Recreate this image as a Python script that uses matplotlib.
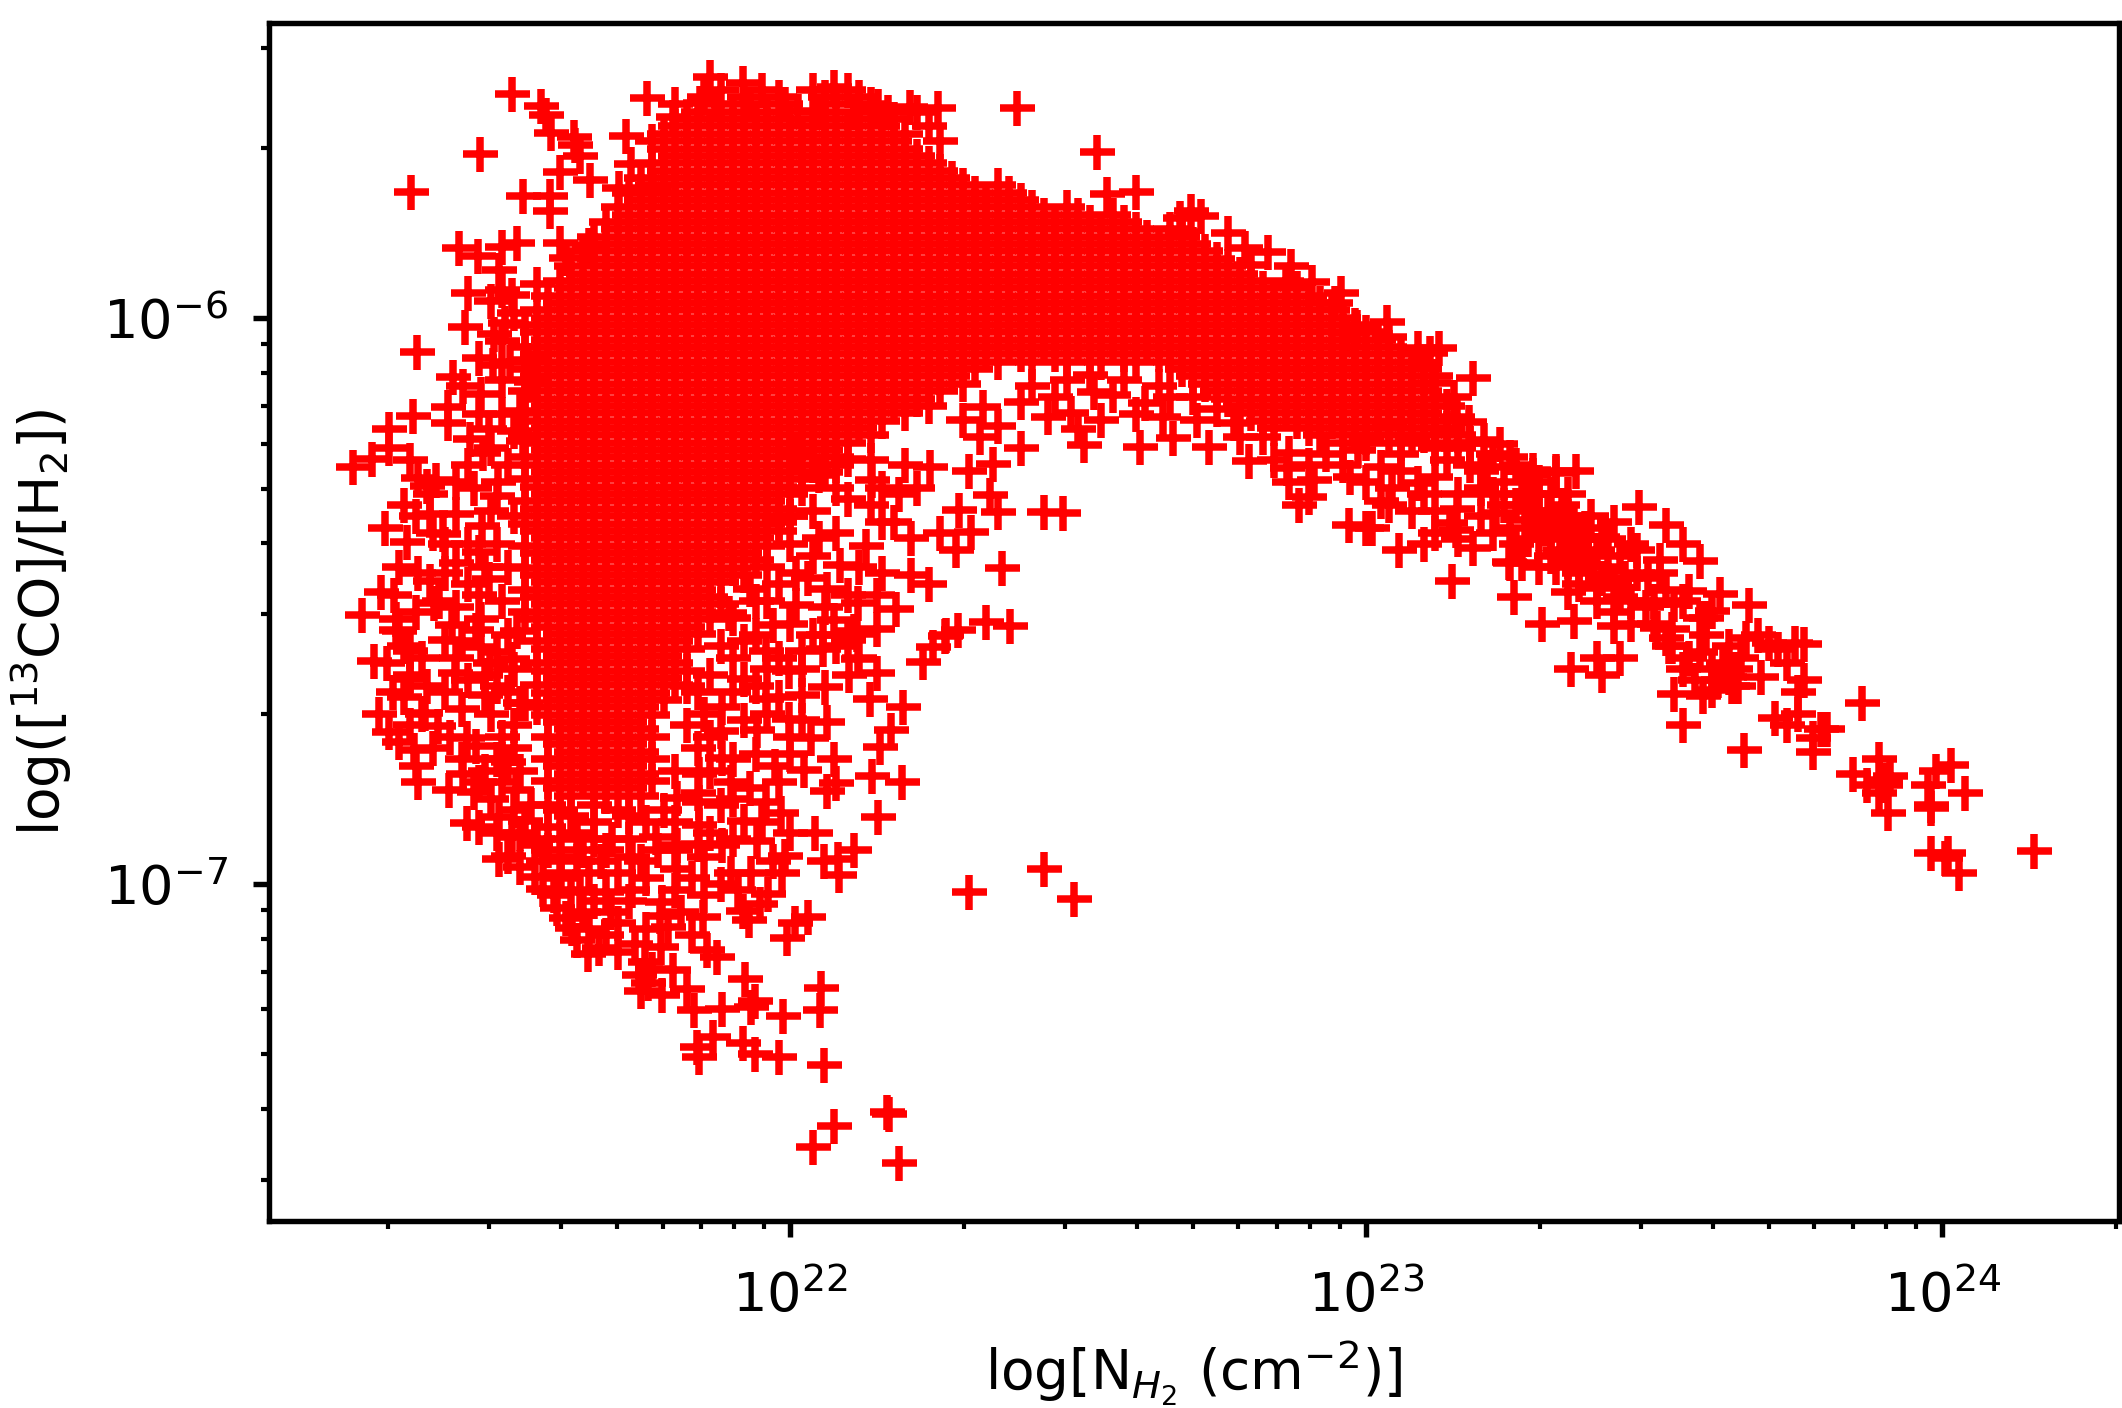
import numpy as np
import matplotlib
matplotlib.use('Agg')
import matplotlib.pyplot as plt

# everything below is log10(N_H2), log10(ratio)

# isolated points down the right hand tail
tail = [(24.16,-6.942),(23.98,-6.945),(24.01,-6.946),(24.005,-6.955),(24.03,-6.98),(24.04,-6.84),(24.015,-6.79),
        (23.99,-6.80),(23.975,-6.825),(23.98,-6.86),(23.98,-6.865),(23.906,-6.875),(23.89,-6.78),(23.91,-6.81),
        (23.845,-6.805),(23.87,-6.825),(23.89,-6.84),(23.90,-6.816),(23.90,-6.826),(23.86,-6.68),(23.775,-6.767),
        (23.775,-6.742),(23.80,-6.726),(23.79,-6.726),(23.75,-6.70),(23.73,-6.72),(23.71,-6.707),(23.75,-6.66),
        (23.76,-6.64),(23.73,-6.61),(23.76,-6.576),(23.745,-6.575),(23.715,-6.585),(23.70,-6.575),(23.68,-6.56),
        (23.66,-6.566),(23.685,-6.634),(23.655,-6.763),(23.55,-6.72),(23.535,-6.664),(23.585,-6.668),(23.60,-6.657),
        (23.635,-6.65),(23.645,-6.65),(23.63,-6.634),(23.64,-6.62),(23.62,-6.61),(23.55,-6.62),(23.56,-6.60),
        (23.59,-6.56),(23.63,-6.58),(23.52,-6.565),(23.525,-6.58),(23.505,-6.548),(23.60,-6.517),(23.59,-6.53),
        (23.665,-6.507),(23.615,-6.488),(23.56,-6.482),(23.535,-6.505),(23.43,-6.544),(23.36,-6.535),(23.305,-6.54),
        (23.257,-6.493),(23.40,-6.60),(23.44,-6.60),(23.355,-6.62),(23.41,-6.63),(23.474,-6.334),(23.52,-6.366),
        (23.55,-6.40),(23.58,-6.43),(23.51,-6.427),(23.47,-6.41),(23.51,-6.45),(23.485,-6.51),(23.44,-6.493),
        (23.38,-6.37),(23.41,-6.387),(23.37,-6.39),(23.337,-6.41),(23.30,-6.44),(23.37,-6.45),(23.40,-6.477),
        (23.35,-6.484),(23.27,-6.433),(23.25,-6.433),(23.365,-6.27),(23.33,-6.27),(23.29,-6.277),(23.30,-6.31),
        (23.35,-6.31),(23.316,-6.34),(23.275,-6.357),(23.45,-6.46),(23.46,-6.54),(23.50,-6.50),(23.53,-6.55),
        (23.58,-6.59),(23.60,-6.62),(23.61,-6.64),(23.57,-6.64),(23.65,-6.60),(23.38,-6.42),(23.42,-6.44),
        (23.34,-6.36),(23.36,-6.40),(23.32,-6.39),(23.40,-6.50),(23.43,-6.47),(23.46,-6.50),(23.39,-6.35)]

# edge of the upper band, between the core and the tail
band_edge = [(22.394,-5.629),(22.533,-5.707),(22.55,-5.78),(22.60,-5.776),(22.696,-5.81),(22.713,-5.82),(22.677,-5.823),
             (22.68,-5.848),(22.76,-5.85),(22.83,-5.883),(22.79,-5.876),(22.87,-5.908),(22.80,-5.906),(22.906,-5.936),
             (22.957,-5.956),(22.863,-5.945),(22.946,-5.973),(22.984,-6.016),(23.036,-6.007),(23.04,-6.033),(22.967,-6.027),
             (23.127,-6.053),(23.09,-6.053),(23.11,-6.062),(23.186,-6.106),(23.116,-6.115),(23.153,-6.14),(23.158,-6.175),
             (23.178,-6.184),(23.233,-6.223),(23.205,-6.216),(23.29,-6.268),(23.33,-6.274),(23.25,-6.245),(23.21,-6.263),
             (23.247,-6.431),(23.148,-6.465),(23.056,-6.41),(23.10,-6.40),(23.186,-6.406),(23.156,-6.375),(22.97,-6.366),
             (23.01,-6.37),(23.0,-6.37),(22.884,-6.33),(22.90,-6.316),(23.026,-6.323),(23.10,-6.31),(23.12,-6.34),
             (23.158,-6.337),(23.146,-6.362),(23.226,-6.344),(23.25,-6.37),(22.863,-6.265),(22.866,-6.29),(22.91,-6.286),
             (22.972,-6.28),(23.045,-6.30),(22.797,-6.253),(22.727,-6.228),(22.665,-6.212),(22.608,-6.228),(22.51,-6.224),
             (22.50,-6.196),(22.40,-6.23),(22.352,-6.257),(22.347,-6.313),(22.36,-6.342),(22.44,-6.343),(22.474,-6.345),
             (22.368,-6.441),(22.314,-6.378),(22.488,-6.168),(22.448,-6.175),(22.40,-6.148),(22.335,-6.157),(22.56,-6.136),
             (22.528,-6.13),(22.615,-6.15),(22.647,-6.175),(22.706,-6.18),(22.77,-6.186),(22.82,-6.21),(22.866,-6.239),
             (22.93,-6.24),(22.986,-6.233),(23.026,-6.263),(23.09,-6.292),(23.14,-6.25),(23.20,-6.30),(23.06,-6.24),
             (23.18,-6.26),(23.24,-6.29),(23.27,-6.31),(22.33,-6.21),(22.31,-6.27),(22.30,-6.18),(22.36,-6.19),
             (22.42,-6.12),(22.46,-6.14),(22.54,-6.18)]

# thicker part of the band and the knot around 2-3e23
band_fill = [(22.58,-6.11),(22.64,-6.12),(22.70,-6.14),(22.52,-6.10),(22.48,-6.11),(22.60,-6.17),(22.66,-6.14),(22.74,-6.16),
             (22.78,-6.21),(22.84,-6.25),(22.90,-6.26),(22.96,-6.26),(23.00,-6.29),(23.06,-6.27),(23.12,-6.28),(23.16,-6.31),
             (23.22,-6.31),(23.26,-6.33),(23.30,-6.35),(23.34,-6.33),(23.28,-6.39),(23.32,-6.42),(23.35,-6.38),(23.38,-6.39),
             (23.36,-6.36),(23.40,-6.41),(23.42,-6.39),(23.44,-6.42),(23.39,-6.44),(23.41,-6.46),(23.37,-6.47),(23.35,-6.43),
             (23.33,-6.44),(23.30,-6.38),(23.26,-6.40),(23.22,-6.38),(23.20,-6.35),(23.16,-6.39),(23.12,-6.38),(23.08,-6.34),
             (23.04,-6.33),(23.22,-6.24),(23.26,-6.26),(23.30,-6.29),(23.18,-6.22),(23.14,-6.20),(23.10,-6.17),(23.16,-6.23),
             (23.20,-6.27),(23.12,-6.23),(23.08,-6.21),(23.04,-6.19),(23.00,-6.21),(22.96,-6.22),(23.24,-6.33),(23.28,-6.31),
             (23.32,-6.31),(23.31,-6.37),(23.29,-6.34),(23.35,-6.35),(23.43,-6.36),(23.46,-6.40),(23.47,-6.45),(23.43,-6.52),
             (23.49,-6.46),(23.52,-6.48),(23.55,-6.50),(23.58,-6.53),(23.53,-6.58),(23.50,-6.54)]

# left wing and top edge of the cloud
left_wing = [(21.516,-5.604),(21.568,-5.624),(21.576,-5.64),(21.585,-5.673),(21.625,-5.68),(21.627,-5.694),(21.635,-5.714),
             (21.462,-5.71),(21.342,-5.777),(21.60,-5.742),(21.653,-5.756),(21.536,-5.784),(21.583,-5.784),(21.583,-5.81),
             (21.703,-5.77),(21.762,-5.774),(21.752,-5.61),(21.86,-5.574),(21.917,-5.585),(22.076,-5.592),(22.257,-5.629),
             (22.208,-5.627),(22.153,-5.624),(22.014,-5.634),(21.844,-5.62),(21.797,-5.645),(21.715,-5.678),(21.724,-5.728),
             (21.425,-5.876),(21.457,-5.89),(21.50,-5.874),(21.526,-5.867),(21.495,-5.915),(21.60,-5.867),(21.65,-5.871),
             (21.611,-5.894),(21.44,-5.956),(21.517,-5.959),(21.56,-5.94),(21.436,-6.016),(21.486,-6.028),(21.505,-6.009),
             (21.352,-6.06),(21.483,-6.083),(21.514,-6.078),(21.545,-6.074),(21.415,-6.104),(21.432,-6.12),(21.463,-6.134),
             (21.50,-6.11),(21.55,-6.113),(21.405,-6.157),(21.345,-6.173),(21.53,-6.164),(21.405,-6.186),(21.304,-6.196),
             (21.477,-6.196),(21.536,-6.217),(21.444,-6.214),(21.304,-6.23),(21.274,-6.249),(21.24,-6.263),(21.34,-6.25),
             (21.467,-6.239),(21.385,-6.286),(21.354,-6.283),(21.37,-6.297),(21.493,-6.29),(21.491,-6.315),(21.375,-6.31),
             (21.33,-6.33),(21.297,-6.371),(21.335,-6.396),(21.375,-6.346),(21.42,-6.346),(21.397,-6.382),(21.465,-6.367),
             (21.46,-6.413),(21.42,-6.433),(21.354,-6.45),(21.375,-6.465),(21.29,-6.484),(21.312,-6.49),(21.382,-6.504),
             (21.476,-6.461),(21.257,-6.525),(21.463,-6.532),(21.316,-6.532),(21.32,-6.553),(21.413,-6.542),(21.526,-6.553),
             (21.339,-6.588),(21.316,-6.551),(21.455,-6.551),(21.401,-6.569),(21.463,-6.581),(21.517,-6.602),(21.479,-6.61),
             (21.278,-6.606),(21.339,-6.638),(21.417,-6.627),(21.47,-6.666),(21.366,-6.698),(21.54,-6.68),(21.285,-6.70),
             (21.304,-6.731),(21.389,-6.721),(21.455,-6.756),(21.439,-6.742),(21.509,-6.784),(21.524,-6.834),(21.408,-6.834),
             (21.451,-6.837),(21.432,-6.806),(21.354,-6.82),(21.35,-6.791),(21.347,-6.763),(21.438,-6.892),(21.495,-6.882),
             (21.495,-6.956),(21.517,-6.917),(21.54,-6.889),(21.556,-6.931),(21.48,-6.70),(21.51,-6.66),(21.50,-6.74),
             (21.52,-6.72),(21.49,-6.78),(21.47,-6.80),(21.50,-6.82),(21.51,-6.56),(21.50,-6.50),(21.51,-6.44),
             (21.49,-6.40),(21.52,-6.35),(21.51,-6.26),(21.52,-6.20),(21.52,-6.62),(21.46,-6.49),(21.44,-6.40),(21.40,-6.45)]

# denser patches of the left wing
wing_fill = [(21.33,-6.58),(21.36,-6.60),(21.34,-6.63),(21.37,-6.65),(21.33,-6.67),(21.36,-6.70),(21.34,-6.72),(21.31,-6.66),
             (21.30,-6.61),(21.32,-6.75),(21.38,-6.76),(21.41,-6.74),(21.43,-6.69),(21.40,-6.66),(21.44,-6.64),(21.42,-6.60),
             (21.47,-6.63),(21.49,-6.59),(21.49,-6.65),(21.53,-6.68),(21.43,-6.78),(21.46,-6.82),(21.48,-6.85),(21.50,-6.78),
             (21.52,-6.76),(21.53,-6.80),(21.52,-6.87),(21.49,-6.91),(21.51,-6.95),(21.53,-6.97),(21.55,-6.86),(21.53,-6.91),
             (21.46,-6.90),(21.39,-6.50),(21.42,-6.51),(21.44,-6.47),(21.40,-6.40),(21.47,-6.44),(21.48,-6.34),(21.45,-6.30),
             (21.44,-6.26),(21.48,-6.23),(21.50,-6.17),(21.46,-6.07),(21.50,-6.04),(21.52,-5.99),(21.50,-5.95),(21.48,-5.97),
             (21.46,-6.17),(21.42,-6.29),(21.38,-6.38),(21.35,-6.35),(21.32,-6.44),(21.35,-6.52),(21.43,-6.57)]

# scatter under the core, down to the lowest points
lower_right = [(22.243,-6.263),(22.118,-6.504),(22.184,-6.514),(22.21,-6.454),(22.21,-6.389),(22.293,-6.339),(22.288,-6.41),
               (22.27,-6.56),(22.11,-6.553),(22.132,-6.403),(22.142,-6.286),(22.188,-6.311),(22.087,-6.436),(22.05,-6.389),
               (22.01,-6.45),(22.05,-6.277),(22.10,-6.249),(22.01,-6.242),(21.93,-6.479),(22.01,-6.507),(22.064,-6.479),
               (21.894,-6.521),(21.97,-6.542),(22.056,-6.56),(22.292,-6.551),(22.339,-6.537),(22.382,-6.544),(22.269,-6.562),
               (22.247,-6.581),(22.231,-6.608),(22.115,-6.558),(22.10,-6.569),(22.057,-6.585),(22.118,-6.602),(22.151,-6.627),
               (22.102,-6.631),(22.139,-6.673),(22.196,-6.687),(22.174,-6.728),(22.156,-6.758),(22.076,-6.779),(22.064,-6.714),
               (22.142,-6.809),(22.194,-6.82),(22.08,-6.822),(22.063,-6.836),(22.153,-6.882),(21.983,-6.875),(22.043,-6.91),
               (22.11,-6.94),(22.083,-6.956),(22.085,-6.984),(22.059,-6.96),(21.99,-6.95),(21.986,-6.98),(22.31,-7.015),
               (22.44,-6.973),(22.493,-7.027),(22.03,-7.058),(22.009,-7.07),(21.995,-7.095),(21.929,-7.064),(21.917,-7.048),
               (21.962,-7.018),(21.948,-7.035),(21.897,-6.98),(21.932,-6.98),(21.849,-7.058),(21.856,-7.117),(21.873,-7.129),
               (21.778,-7.032),(21.773,-7.056),(21.788,-7.076),(21.776,-7.111),(21.731,-7.106),(21.747,-7.138),(21.797,-7.152),
               (21.738,-7.161),(21.753,-7.175),(21.82,-7.186),(21.778,-7.196),(21.832,-7.223),(21.882,-7.221),(21.922,-7.168),
               (21.939,-7.207),(21.932,-7.217),(21.988,-7.233),(22.054,-7.184),(22.052,-7.223),(22.059,-7.32),(21.838,-7.288),
               (21.866,-7.27),(21.842,-7.306),(21.917,-7.281),(21.939,-7.30),(21.981,-7.306),(22.168,-7.403),(22.172,-7.407),
               (22.076,-7.428),(22.04,-7.465),(22.189,-7.493),(21.649,-7.124),(21.668,-7.113),(21.621,-7.078),(21.595,-7.042),
               (21.688,-7.05),(21.68,-7.014),(21.726,-7.011),(21.634,-7.014),(21.571,-7.009),(21.556,-6.988),(21.602,-6.98),
               (21.958,-6.673),(22.02,-6.666),(22.06,-6.652),(21.998,-6.708),(22.036,-6.742),(21.92,-6.638),(21.998,-6.624),
               (21.882,-6.687),(21.943,-6.728),(21.974,-6.791),(22.024,-6.799),(21.897,-6.82),(21.842,-6.855),(21.958,-6.855),
               (21.92,-6.889),(21.842,-6.896),(21.804,-6.931),(21.882,-6.931),(21.943,-6.924),(21.804,-6.973),(21.851,-6.952),
               (22.02,-6.588),(21.958,-6.588),(22.075,-6.534),(21.882,-6.777),(21.842,-6.806),(21.804,-6.848),(21.766,-6.917),
               (21.726,-6.952),(21.672,-6.96),(21.602,-6.952),(21.60,-6.87),(21.66,-6.89),(21.72,-6.88),(21.78,-6.87),
               (21.63,-6.91),(21.69,-6.92),(21.58,-6.90),(21.64,-6.94),(21.86,-6.74),(21.84,-6.66),(21.90,-6.60),
               (22.14,-6.33),(22.08,-6.30),(22.16,-6.36),(22.22,-6.30),(22.26,-6.38),(22.24,-6.47),(22.16,-6.45),
               (22.10,-6.49),(22.04,-6.34),(22.00,-6.40),(21.96,-6.50),(21.98,-6.60),(21.94,-6.56),(22.15,-6.55)]

# the busy area just below and right of the core
lower_fill = [(21.58,-6.86),(21.62,-6.88),(21.66,-6.86),(21.70,-6.87),(21.75,-6.89),(21.80,-6.89),(21.56,-6.92),(21.60,-6.92),
              (21.66,-6.92),(21.72,-6.92),(21.77,-6.94),(21.58,-6.94),(21.63,-6.96),(21.68,-6.94),(21.74,-6.96),(21.57,-6.96),
              (21.60,-6.99),(21.65,-6.98),(21.70,-6.98),(21.75,-6.99),(21.62,-7.01),(21.66,-7.03),(21.59,-7.02),(21.72,-7.03),
              (21.64,-7.05),(21.61,-7.06),(21.70,-7.07),(21.65,-7.08),(21.63,-7.10),(21.68,-7.09),(21.75,-7.08),(21.80,-7.01),
              (21.83,-6.99),(21.85,-7.02),(21.81,-7.05),(21.88,-7.00),(21.91,-7.01),(21.83,-7.09),(21.70,-7.12),(21.74,-7.19),
              (21.76,-7.15),(21.80,-6.94),(21.84,-6.93),(21.86,-6.91),(21.90,-6.92),(21.95,-6.89),(22.00,-6.91),(21.97,-6.96),
              (21.88,-6.86),(21.80,-6.80),(21.84,-6.84),(21.90,-6.85),(21.93,-6.83),(21.98,-6.82),(21.86,-6.80),(21.90,-6.78),
              (21.94,-6.77),(22.00,-6.77),(21.84,-6.76),(21.88,-6.73),(21.92,-6.71),(21.96,-6.70),(22.00,-6.74),(21.82,-6.72),
              (21.85,-6.70),(21.90,-6.66),(21.94,-6.65),(21.98,-6.67),(22.02,-6.71),(21.82,-6.65),(21.86,-6.63),(21.88,-6.58),
              (21.92,-6.57),(21.96,-6.62),(22.02,-6.62),(22.04,-6.56),(21.90,-6.53),(21.94,-6.50),(21.98,-6.47),(22.03,-6.46),
              (22.06,-6.51),(22.00,-6.54),(22.08,-6.58),(22.12,-6.60),(21.96,-6.44),(22.00,-6.35),(22.04,-6.42),(22.08,-6.38),
              (22.12,-6.44),(22.15,-6.49),(22.10,-6.32),(22.18,-6.36),(22.16,-6.30),(22.08,-6.26),(22.14,-6.25),(22.20,-6.26),
              (22.02,-6.30),(21.98,-6.36)]

# the solid part of the cloud is too dense to pick single points out of,
# so it is read as rows of crosses: one ratio level, then its N_H2 values
core_levels = [-5.597,-5.609,-5.622,-5.635,-5.648,-5.661,-5.674,-5.687,
               -5.700,-5.713,-5.726,-5.739,-5.752,-5.765,-5.778,-5.791,-5.804,-5.817,-5.830,-5.843,-5.856,-5.869,
               -5.882,-5.895,-5.908,-5.921,-5.934,-5.947,-5.960,-5.973,-5.986,-5.999,-6.012,-6.025,-6.038,-6.051,
               -6.064,-6.077,-6.090,-6.103,-6.116,-6.129,-6.142,-6.155,-6.168,-6.181,-6.194,-6.207,-6.220,-6.233,
               -6.246,-6.259,-6.272,-6.285,-6.298,-6.311,-6.324,-6.337,-6.350,-6.363,-6.376,-6.389,-6.402,-6.415,
               -6.428,-6.441,-6.454,-6.467,-6.480,-6.493,-6.506,-6.519,-6.532,-6.545,-6.558,-6.571,-6.584,-6.597,
               -6.610,-6.623,-6.636,-6.649,-6.662,-6.675,-6.688,-6.701,-6.714,-6.727,-6.740,-6.753,-6.766,-6.779,
               -6.792,-6.805,-6.818,-6.831,-6.844]
core_rows = [
    [21.88,21.95,22.04,22.10],
    [21.85,21.92,21.98,22.06,22.12],
    [21.80,21.87,21.93,21.99,22.08,22.14],
    [21.84,21.90,21.96,22.05,22.11,22.17,22.22],
    [21.82,21.88,21.94,22.00,22.06,22.12,22.18],
    [21.80,21.86,21.92,21.98,22.04,22.10,22.16,22.24],
    [21.78,21.84,21.90,21.96,22.02,22.08,22.14,22.20],
    [21.76,21.82,21.88,21.94,22.00,22.06,22.12,22.18,22.26],
    [21.78,21.84,21.90,21.96,22.02,22.08,22.14,22.20],
    [21.80,21.86,21.92,21.98,22.04,22.10,22.16,22.22],
    [21.76,21.82,21.88,21.94,22.00,22.06,22.12,22.18,22.24],
    [21.78,21.84,21.90,21.96,22.02,22.08,22.14,22.20,22.26],
    [21.74,21.80,21.86,21.92,21.98,22.04,22.10,22.16,22.22,22.28],
    [21.76,21.82,21.88,21.94,22.00,22.06,22.12,22.18,22.24,22.30,22.36],
    [21.72,21.78,21.84,21.90,21.96,22.02,22.08,22.14,22.20,22.26,22.32,22.38],
    [21.74,21.80,21.86,21.92,21.98,22.04,22.10,22.16,22.22,22.28,22.34,22.40],
    [21.70,21.76,21.82,21.88,21.94,22.00,22.06,22.12,22.18,22.24,22.30,22.36,22.42,22.48],
    [21.72,21.78,21.84,21.90,21.96,22.02,22.08,22.14,22.20,22.26,22.32,22.38,22.44,22.50,22.56],
    [21.68,21.74,21.80,21.86,21.92,21.98,22.04,22.10,22.16,22.22,22.28,22.34,22.40,22.46,22.52,22.58],
    [21.70,21.76,21.82,21.88,21.94,22.00,22.06,22.12,22.18,22.24,22.30,22.36,22.42,22.48,22.54,22.60,22.66],
    [21.66,21.72,21.78,21.84,21.90,21.96,22.02,22.08,22.14,22.20,22.26,22.32,22.38,22.44,22.50,22.56,22.62,22.68],
    [21.68,21.74,21.80,21.86,21.92,21.98,22.04,22.10,22.16,22.22,22.28,22.34,22.40,22.46,22.52,22.58,22.64,22.70],
    [21.64,21.70,21.76,21.82,21.88,21.94,22.00,22.06,22.12,22.18,22.24,22.30,22.36,22.42,22.48,22.54,22.60,22.66,22.72],
    [21.66,21.72,21.78,21.84,21.90,21.96,22.02,22.08,22.14,22.20,22.26,22.32,22.38,22.44,22.50,22.56,22.62,22.68,22.74],
    [21.62,21.68,21.74,21.80,21.86,21.92,21.98,22.04,22.10,22.16,22.22,22.28,22.34,22.40,22.46,22.52,22.58,22.64,22.70,22.76],
    [21.64,21.70,21.76,21.82,21.88,21.94,22.00,22.06,22.12,22.18,22.24,22.30,22.36,22.42,22.48,22.54,22.60,22.66,22.72,22.78],
    [21.60,21.66,21.72,21.78,21.84,21.90,21.96,22.02,22.08,22.14,22.20,22.26,22.32,22.38,22.44,22.50,22.56,22.62,22.68,22.74,22.80,22.86],
    [21.62,21.68,21.74,21.80,21.86,21.92,21.98,22.04,22.10,22.16,22.22,22.28,22.34,22.40,22.46,22.52,22.58,22.64,22.70,22.76,22.82,22.88],
    [21.58,21.64,21.70,21.76,21.82,21.88,21.94,22.00,22.06,22.12,22.18,22.24,22.30,22.36,22.42,22.48,22.54,22.60,22.66,22.72,22.78,22.84,22.90],
    [21.60,21.66,21.72,21.78,21.84,21.90,21.96,22.02,22.08,22.14,22.20,22.26,22.32,22.38,22.44,22.50,22.56,22.62,22.68,22.74,22.80,22.86,22.92],
    [21.56,21.62,21.68,21.74,21.80,21.86,21.92,21.98,22.04,22.10,22.16,22.22,22.28,22.34,22.40,22.46,22.52,22.58,22.64,22.70,22.76,22.82,22.88,22.94],
    [21.58,21.64,21.70,21.76,21.82,21.88,21.94,22.00,22.06,22.12,22.18,22.24,22.30,22.36,22.42,22.48,22.54,22.60,22.66,22.72,22.78,22.84,22.90,22.96],
    [21.54,21.60,21.66,21.72,21.78,21.84,21.90,21.96,22.02,22.08,22.14,22.20,22.26,22.32,22.38,22.44,22.50,22.56,22.62,22.68,22.74,22.80,22.86,22.92,22.98],
    [21.56,21.62,21.68,21.74,21.80,21.86,21.92,21.98,22.04,22.10,22.16,22.22,22.28,22.34,22.40,22.46,22.52,22.58,22.64,22.70,22.76,22.82,22.88,22.94,23.00],
    [21.58,21.64,21.70,21.76,21.82,21.88,21.94,22.00,22.06,22.12,22.18,22.24,22.30,22.36,22.42,22.48,22.54,22.60,22.66,22.72,22.78,22.84,22.90,22.96,23.02],
    [21.54,21.60,21.66,21.72,21.78,21.84,21.90,21.96,22.02,22.08,22.14,22.20,22.26,22.32,22.38,22.44,22.50,22.56,22.62,22.68,22.74,22.80,22.86,22.92,22.98,23.04],
    [21.56,21.62,21.68,21.74,21.80,21.86,21.92,21.98,22.04,22.10,22.16,22.22,22.28,22.34,22.40,22.46,22.52,22.58,22.64,22.70,22.76,22.82,22.88,22.94,23.00,23.06],
    [21.58,21.64,21.70,21.76,21.82,21.88,21.94,22.00,22.06,22.12,22.18,22.24,22.30,22.36,22.42,22.48,22.54,22.60,22.66,22.72,22.78,22.84,22.90,22.96,23.02,23.08],
    [21.54,21.60,21.66,21.72,21.78,21.84,21.90,21.96,22.02,22.08,22.14,22.20,22.26,22.32,22.68,22.74,22.80,22.86,22.92,22.98,23.04,23.10],
    [21.56,21.62,21.68,21.74,21.80,21.86,21.92,21.98,22.04,22.10,22.16,22.22,22.28,22.70,22.76,22.82,22.88,22.94,23.00,23.06,23.12],
    [21.58,21.64,21.70,21.76,21.82,21.88,21.94,22.00,22.06,22.12,22.18,22.24,22.30,22.72,22.78,22.84,22.90,22.96,23.02,23.08],
    [21.54,21.60,21.66,21.72,21.78,21.84,21.90,21.96,22.02,22.08,22.14,22.20,22.26,22.74,22.80,22.86,22.92,22.98,23.04,23.10],
    [21.56,21.62,21.68,21.74,21.80,21.86,21.92,21.98,22.04,22.10,22.16,22.22,22.76,22.82,22.88,22.94,23.00,23.06,23.12],
    [21.58,21.64,21.70,21.76,21.82,21.88,21.94,22.00,22.06,22.12,22.18,22.24,22.78,22.84,22.90,22.96,23.02,23.08,23.14],
    [21.54,21.60,21.66,21.72,21.78,21.84,21.90,21.96,22.02,22.08,22.14,22.20,22.80,22.86,22.92,22.98,23.04,23.10],
    [21.56,21.62,21.68,21.74,21.80,21.86,21.92,21.98,22.04,22.10,22.16,22.82,22.88,22.94,23.00,23.06,23.12],
    [21.58,21.64,21.70,21.76,21.82,21.88,21.94,22.00,22.06,22.12,22.84,22.90,22.96,23.02,23.08,23.14],
    [21.54,21.60,21.66,21.72,21.78,21.84,21.90,21.96,22.02,22.08,22.14,22.92,22.98,23.04,23.10,23.16],
    [21.56,21.62,21.68,21.74,21.80,21.86,21.92,21.98,22.04,22.10,23.00,23.06,23.12,23.18],
    [21.58,21.64,21.70,21.76,21.82,21.88,21.94,22.00,22.06],
    [21.54,21.60,21.66,21.72,21.78,21.84,21.90,21.96,22.02,22.08],
    [21.56,21.62,21.68,21.74,21.80,21.86,21.92,21.98,22.04],
    [21.58,21.64,21.70,21.76,21.82,21.88,21.94,22.00,22.06],
    [21.54,21.60,21.66,21.72,21.78,21.84,21.90,21.96,22.02],
    [21.56,21.62,21.68,21.74,21.80,21.86,21.92,21.98],
    [21.58,21.64,21.70,21.76,21.82,21.88,21.94,22.00],
    [21.54,21.60,21.66,21.72,21.78,21.84,21.90,21.96],
    [21.56,21.62,21.68,21.74,21.80,21.86,21.92,21.98],
    [21.58,21.64,21.70,21.76,21.82,21.88,21.94,22.00],
    [21.54,21.60,21.66,21.72,21.78,21.84,21.90,21.96],
    [21.56,21.62,21.68,21.74,21.80,21.86,21.92,21.98],
    [21.58,21.64,21.70,21.76,21.82,21.88,21.94],
    [21.54,21.60,21.66,21.72,21.78,21.84,21.90,21.96],
    [21.56,21.62,21.68,21.74,21.80,21.86,21.92],
    [21.58,21.64,21.70,21.76,21.82,21.88,21.94],
    [21.54,21.60,21.66,21.72,21.78,21.84,21.90],
    [21.56,21.62,21.68,21.74,21.80,21.86,21.92],
    [21.58,21.64,21.70,21.76,21.82,21.88],
    [21.54,21.60,21.66,21.72,21.78,21.84],
    [21.56,21.62,21.68,21.74,21.80,21.86],
    [21.58,21.64,21.70,21.76,21.82,21.88],
    [21.54,21.60,21.66,21.72,21.78,21.84],
    [21.56,21.62,21.68,21.74,21.80,21.86],
    [21.58,21.64,21.70,21.76,21.82],
    [21.60,21.66,21.72,21.78,21.84],
    [21.56,21.62,21.68,21.74,21.80],
    [21.58,21.64,21.70,21.76,21.82],
    [21.60,21.66,21.72,21.78],
    [21.56,21.62,21.68,21.74,21.80],
    [21.58,21.64,21.70,21.76,21.82],
    [21.60,21.66,21.72,21.78],
    [21.56,21.62,21.68,21.74,21.80],
    [21.58,21.64,21.70,21.76],
    [21.60,21.66,21.72,21.78],
    [21.56,21.62,21.68,21.74],
    [21.58,21.64,21.70,21.76],
    [21.60,21.66,21.72],
    [21.62,21.68,21.74],
    [21.58,21.64,21.70,21.76],
    [21.60,21.66,21.72],
    [21.62,21.68,21.74],
    [21.58,21.64,21.70,21.76],
    [21.60,21.66,21.72],
    [21.62,21.68,21.74],
    [21.58,21.64,21.70,21.76],
    [21.60,21.66,21.72],
    [21.62,21.68,21.74],
]

x_ticks_exp = [22, 23, 24]
y_ticks_exp = [-7, -6]

groups = tail + band_edge + band_fill + left_wing + wing_fill + lower_right + lower_fill
log_n = [p[0] for p in groups]
log_r = [p[1] for p in groups]
for lev, row in zip(core_levels, core_rows):
    log_n += row
    log_r += [lev] * len(row)
log_n = np.array(log_n)
log_r = np.array(log_r)

fig = plt.figure(figsize=(2122/300, 1408/300), dpi=300)
ax = fig.add_axes([0.1268, 0.1328, 0.8718, 0.8509])
ax.plot(10.0**log_n, 10.0**log_r, linestyle='None', marker='+', color='red', markersize=8.4, markeredgewidth=1.8)
ax.set_xscale('log')
ax.set_yscale('log')
ax.set_xlim(10**21.095, 10**24.307)
ax.set_ylim(10**-7.596, 10**-5.478)
ax.set_xticks([10.0**e for e in x_ticks_exp])
ax.set_yticks([10.0**e for e in y_ticks_exp])

for s in ax.spines.values():
    s.set_linewidth(1.3)
ax.tick_params(which='major', length=3.8, width=1.3, labelsize=13)
ax.tick_params(axis='x', which='major', pad=8)
ax.tick_params(axis='y', which='major', pad=6)
ax.tick_params(which='minor', length=2, width=1.0, labelbottom=False, labelleft=False)

ax.set_xlabel(r'log[N$_{H_2}$ (cm$^{-2}$)]', fontsize=13.2, labelpad=3.5)
ax.set_ylabel(r'log([$^{13}$CO]/[H$_2$])', fontsize=13.2, labelpad=7)

fig.savefig('out.png', dpi=300)
